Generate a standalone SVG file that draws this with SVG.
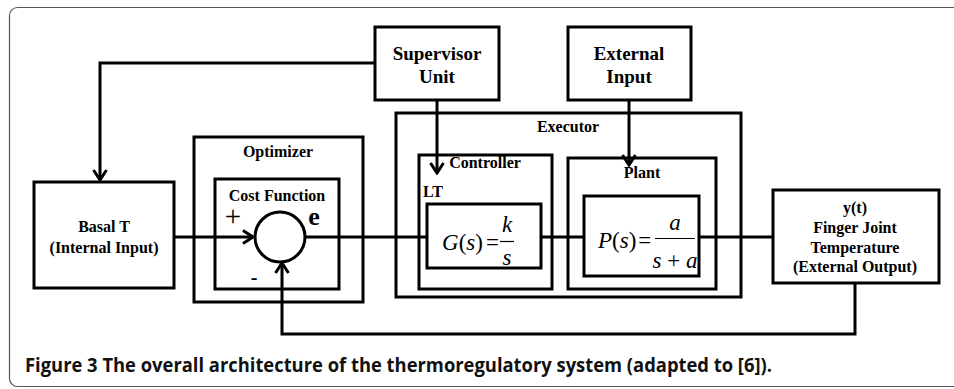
<svg xmlns="http://www.w3.org/2000/svg" width="954" height="389" viewBox="0 0 954 389">
<defs>
<style>
.box{fill:none;stroke:#000;stroke-width:3}
.con{fill:none;stroke:#000;stroke-width:3}
.t{font-family:"Liberation Serif","Times New Roman",serif;font-weight:bold;fill:#000;text-anchor:middle}
.t16{font-size:16px}
.t19{font-size:19px}
.m{font-family:"Liberation Serif","Times New Roman",serif;font-size:23px;fill:#000}
.i{font-style:italic}
.cap{font-family:"Open Sans","Liberation Sans",sans-serif;font-weight:bold;font-size:19.5px;fill:#111}
</style>
<marker id="arr" viewBox="-12 -8 14 16" refX="0" refY="0" markerWidth="14" markerHeight="16" orient="auto" markerUnits="userSpaceOnUse">
<path d="M-10,-6.5 L0,0 L-10,6.5" fill="none" stroke="#000" stroke-width="3"/>
</marker>
</defs>
<rect width="954" height="389" fill="#fff"/>
<rect x="9.5" y="7.5" width="980" height="379" rx="8" fill="none" stroke="#555" stroke-width="1.2"/>

<g id="connectors">
<path class="con" d="M375,63 H100 V180" marker-end="url(#arr)"/>
<path class="con" d="M437,100 V173" marker-end="url(#arr)"/>
<path class="con" d="M629,100 V165" marker-end="url(#arr)"/>
<path class="con" d="M174,237 H253" marker-end="url(#arr)"/>
<path class="con" d="M305,237 H427"/>
<path class="con" d="M541,237 H584"/>
<path class="con" d="M699,237 H773"/>
<path class="con" d="M855,283 V334 H282 V263" marker-end="url(#arr)"/>
</g>

<g id="supervisor">
<rect class="box" x="375" y="27" width="124" height="73"/>
<text class="t t19" x="437" y="60">Supervisor</text>
<text class="t t19" x="437" y="83">Unit</text>
</g>

<g id="external-input">
<rect class="box" x="568" y="27" width="123" height="73"/>
<text class="t t19" x="629" y="60">External</text>
<text class="t t19" x="629" y="83">Input</text>
</g>

<g id="basal">
<rect class="box" x="34" y="182" width="140" height="106"/>
<text class="t t16" x="104" y="232">Basal T</text>
<text class="t t16" x="104" y="253">(Internal Input)</text>
</g>

<g id="optimizer">
<rect class="box" x="194" y="137" width="169" height="165"/>
<text class="t t16" x="278" y="157">Optimizer</text>
</g>

<g id="cost-function">
<rect class="box" x="215" y="179" width="124" height="110"/>
<text class="t t16" x="277" y="201">Cost Function</text>
<circle cx="280" cy="237" r="25" fill="none" stroke="#000" stroke-width="3"/>
<text x="233" y="226" style="font-family:'Liberation Serif',serif;font-size:29px;text-anchor:middle">+</text>
<text x="314" y="225" style="font-family:'Liberation Serif',serif;font-size:26px;font-weight:bold;text-anchor:middle">e</text>
<text x="254" y="284" style="font-family:'Liberation Serif',serif;font-size:20px;font-weight:bold;text-anchor:middle">-</text>
</g>

<g id="executor">
<rect class="box" x="396" y="113" width="345" height="184"/>
<text class="t t16" x="568" y="132">Executor</text>
</g>

<g id="controller">
<rect class="box" x="419" y="155" width="133" height="134"/>
<text class="t t16" x="485" y="168">Controller</text>
<text class="t t16" x="423" y="197" style="text-anchor:start">LT</text>
</g>

<g id="g-block">
<rect class="box" x="427" y="204" width="114" height="64"/>
<text class="m" x="442" y="250"><tspan class="i">G</tspan>(<tspan class="i">s</tspan>)<tspan dx="3">=</tspan></text>
<line x1="500" y1="241.5" x2="514" y2="241.5" stroke="#000" stroke-width="1.2"/>
<text class="m i" x="507" y="232" text-anchor="middle">k</text>
<text class="m i" x="507" y="265" text-anchor="middle">s</text>
</g>

<g id="plant">
<rect class="box" x="568" y="158" width="148" height="131"/>
<text class="t t16" x="642" y="178">Plant</text>
</g>

<g id="p-block">
<rect class="box" x="584" y="196" width="115" height="80"/>
<text class="m" x="598" y="248"><tspan class="i">P</tspan>(<tspan class="i">s</tspan>)<tspan dx="2">=</tspan></text>
<line x1="655" y1="238.5" x2="695" y2="238.5" stroke="#000" stroke-width="1.2"/>
<text class="m i" x="675" y="230" text-anchor="middle">a</text>
<text class="m" x="675" y="268" text-anchor="middle"><tspan class="i">s</tspan> + <tspan class="i">a</tspan></text>
</g>

<g id="output">
<rect class="box" x="773" y="190" width="166" height="93"/>
<text class="t t16" x="855" y="213">y(t)</text>
<text class="t t16" x="855" y="233">Finger Joint</text>
<text class="t t16" x="855" y="253">Temperature</text>
<text class="t t16" x="855" y="272">(External Output)</text>
</g>

<text class="cap" x="25" y="372" textLength="747" lengthAdjust="spacingAndGlyphs">Figure 3 The overall architecture of the thermoregulatory system (adapted to [6]).</text>
</svg>
